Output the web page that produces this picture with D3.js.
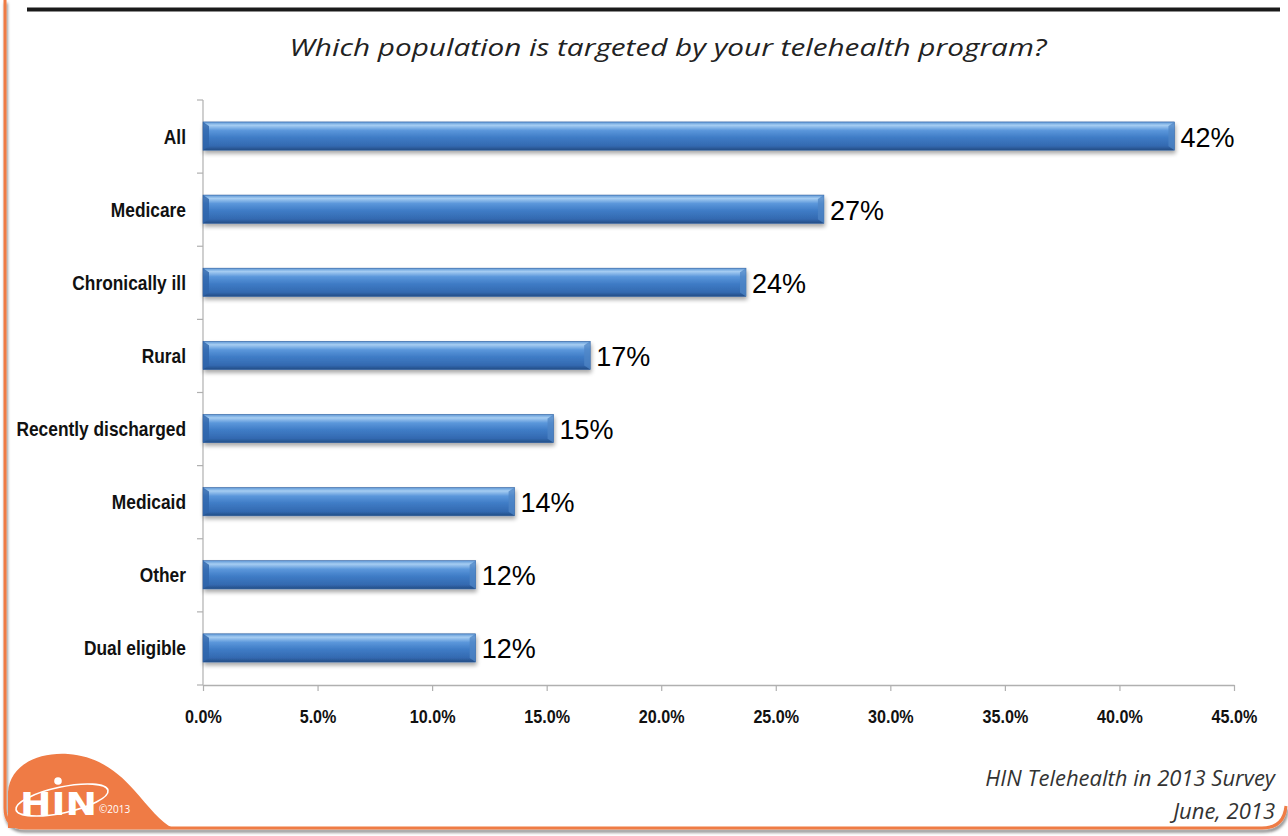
<!DOCTYPE html>
<html>
<head>
<meta charset="utf-8">
<script src="https://cdn.jsdelivr.net/npm/d3@7"></script>
<style>
  html, body { margin: 0; padding: 0; background: #fff; }
  svg { display: block; }
</style>
</head>
<body>
<svg id="chart" width="1288" height="836"></svg>
<script>
const categories = ["All", "Medicare", "Chronically ill", "Rural", "Recently discharged", "Medicaid", "Other", "Dual eligible"];
const values = [42.4, 27.1, 23.7, 16.9, 15.3, 13.6, 11.9, 11.9];
const valueLabels = ["42%", "27%", "24%", "17%", "15%", "14%", "12%", "12%"];
const xTicks = [0, 5, 10, 15, 20, 25, 30, 35, 40, 45];
const titleText = "Which population is targeted by your telehealth program?";
const footerLines = ["HIN Telehealth in 2013 Survey", "June, 2013"];

const svg = d3.select("#chart");
const orange = "#ef7b45";

// defs
const defs = svg.append("defs");
const grad = defs.append("linearGradient").attr("id", "barGrad")
  .attr("x1", 0).attr("y1", 0).attr("x2", 0).attr("y2", 1);
[[0, "#5d97d6"], [0.12, "#a6cdf2"], [0.3, "#5b97db"], [0.55, "#3f7cc6"], [0.85, "#3369b0"], [1, "#234c84"]]
  .forEach(([o, c]) => grad.append("stop").attr("offset", o).attr("stop-color", c));
const shadow = defs.append("filter").attr("id", "shadow")
  .attr("x", "-5%").attr("y", "-30%").attr("width", "110%").attr("height", "180%");
shadow.append("feGaussianBlur").attr("in", "SourceAlpha").attr("stdDeviation", 2);
shadow.append("feOffset").attr("dx", 1).attr("dy", 3).attr("result", "ob");
shadow.append("feComponentTransfer").append("feFuncA").attr("type", "linear").attr("slope", 0.35);
const fm = shadow.append("feMerge");
fm.append("feMergeNode");
fm.append("feMergeNode").attr("in", "SourceGraphic");

const frameShadow = defs.append("filter").attr("id", "frameShadow")
  .attr("x", "-2%").attr("y", "-2%").attr("width", "104%").attr("height", "104%");
frameShadow.append("feGaussianBlur").attr("in", "SourceAlpha").attr("stdDeviation", 1.5);
frameShadow.append("feOffset").attr("dx", 1).attr("dy", 3).attr("result", "o");
frameShadow.append("feComponentTransfer").append("feFuncA").attr("type", "linear").attr("slope", 0.5);
const fm2 = frameShadow.append("feMerge");
fm2.append("feMergeNode");
fm2.append("feMergeNode").attr("in", "SourceGraphic");

// frame
svg.append("path")
  .attr("d", "M5,0 L5,808 Q5,828 25,828 L1262,828 Q1284,828 1286,806")
  .attr("fill", "none").attr("stroke", orange).attr("stroke-width", 3)
  .attr("filter", "url(#frameShadow)");

// top black rule
svg.append("line").attr("x1", 27).attr("x2", 1280).attr("y1", 9.5).attr("y2", 9.5)
  .attr("stroke", "#1a1a1a").attr("stroke-width", 4);

// title
svg.append("text").attr("x", 668).attr("y", 56)
  .attr("text-anchor", "middle")
  .attr("font-family", "'Open Sans', 'Noto Sans', sans-serif")
  .attr("font-style", "italic").attr("font-size", 24).attr("fill", "#222")
  .attr("textLength", 757).attr("lengthAdjust", "spacingAndGlyphs")
  .text(titleText);

// scales
const x = d3.scaleLinear().domain([0, 45]).range([203, 1234]);
const y = d3.scaleBand().domain(categories).range([100, 685]).paddingInner(0.6).paddingOuter(0.3);

const axisColor = "#b0b0b0";
const sansBold = "'Liberation Sans', Arial, sans-serif";

// y axis line + ticks at band boundaries
const yAxisG = svg.append("g");
yAxisG.append("line").attr("x1", 203).attr("x2", 203).attr("y1", 100).attr("y2", 685)
  .attr("stroke", axisColor).attr("stroke-width", 1.2);
const bounds = d3.range(categories.length + 1).map(i => y.range()[0] + i * y.step());
yAxisG.selectAll("line.tk").data(bounds).join("line").attr("class", "tk")
  .attr("x1", 197).attr("x2", 203).attr("y1", d => d).attr("y2", d => d)
  .attr("stroke", axisColor).attr("stroke-width", 1.2);

// x axis
const xAxis = d3.axisBottom(x).tickValues(xTicks).tickSize(6).tickSizeOuter(0)
  .tickFormat(d => d.toFixed(1) + "%");
const xg = svg.append("g").attr("transform", "translate(0,685)").call(xAxis);
xg.select(".domain").attr("stroke", axisColor).attr("stroke-width", 1.5);
xg.selectAll(".tick line").attr("stroke", axisColor).attr("stroke-width", 1.2);
xg.selectAll(".tick text")
  .attr("font-family", sansBold).attr("font-weight", "bold")
  .attr("font-size", 19).attr("fill", "#111").attr("dy", 0).attr("y", 0)
  .attr("transform", "translate(0,38) scale(0.85,1)");

// category labels (condensed)
svg.append("g").selectAll("text").data(categories).join("text")
  .attr("transform", d => `translate(186,${y(d) + y.bandwidth() / 2 + 7}) scale(0.89,1)`)
  .attr("text-anchor", "end")
  .attr("font-family", sansBold).attr("font-weight", "bold").attr("font-size", 19.5)
  .attr("fill", "#111").text(d => d);

// bars
const bars = svg.append("g");
bars.selectAll("rect").data(values).join("rect")
  .attr("x", x(0)).attr("y", (d, i) => y(categories[i]))
  .attr("width", d => x(d) - x(0)).attr("height", y.bandwidth() - 1)
  .attr("fill", "url(#barGrad)").attr("stroke", "#2f5f9e").attr("stroke-width", 0.6)
  .attr("filter", "url(#shadow)");
bars.selectAll("path.bev").data(values).join("path").attr("class", "bev")
  .attr("d", (d, i) => {
    const x1 = x(d), y0 = y(categories[i]), h = y.bandwidth() - 1;
    return `M${x1 - 6},${y0 + 4} L${x1},${y0} L${x1},${y0 + h} L${x1 - 6},${y0 + h - 4} Z`;
  })
  .attr("fill", "#4f86c6").attr("opacity", 0.75);
bars.selectAll("path.bevl").data(values).join("path").attr("class", "bevl")
  .attr("d", (d, i) => {
    const x0 = x(0), y0 = y(categories[i]), h = y.bandwidth() - 1;
    return `M${x0},${y0} L${x0 + 6},${y0 + 4} L${x0 + 6},${y0 + h - 4} L${x0},${y0 + h} Z`;
  })
  .attr("fill", "#2e64aa").attr("opacity", 0.8);

// value labels
svg.append("g").selectAll("text").data(values).join("text")
  .attr("x", d => x(d) + 6).attr("y", (d, i) => y(categories[i]) + y.bandwidth() / 2 + 10)
  .attr("font-family", "'Liberation Sans', Arial, sans-serif").attr("font-size", 27)
  .attr("fill", "#000").text((d, i) => valueLabels[i]);

// footer
svg.append("g").selectAll("text").data(footerLines).join("text")
  .attr("x", 1275).attr("y", (d, i) => 786 + i * 33)
  .attr("text-anchor", "end")
  .attr("font-family", "'Open Sans', 'Noto Sans', sans-serif")
  .attr("font-style", "italic").attr("font-size", 22).attr("fill", "#333")
  .text(d => d);

// logo
const logo = svg.append("g");
logo.append("path")
  .attr("d", "M8,828 L8,792 C10,765 38,752 68,754 C98,756 118,772 134,790 C150,808 160,822 173,828 Z")
  .attr("fill", orange);
logo.append("ellipse").attr("cx", 62).attr("cy", 800).attr("rx", 47).attr("ry", 13)
  .attr("transform", "rotate(-12,62,800)")
  .attr("fill", "none").attr("stroke", "#fff").attr("stroke-width", 1.6);
logo.append("circle").attr("cx", 58).attr("cy", 781).attr("r", 3.8).attr("fill", "#fff");
logo.append("text").attr("x", 20).attr("y", 815)
  .attr("font-family", "'DejaVu Sans', sans-serif").attr("font-weight", "bold")
  .attr("font-size", 32).attr("fill", "#fff").attr("textLength", 77)
  .attr("lengthAdjust", "spacingAndGlyphs").text("HIN");
logo.append("text").attr("x", 99).attr("y", 813)
  .attr("font-family", "'Open Sans', sans-serif").attr("font-size", 10).attr("fill", "#fff")
  .text("©2013");
</script>
</body>
</html>
